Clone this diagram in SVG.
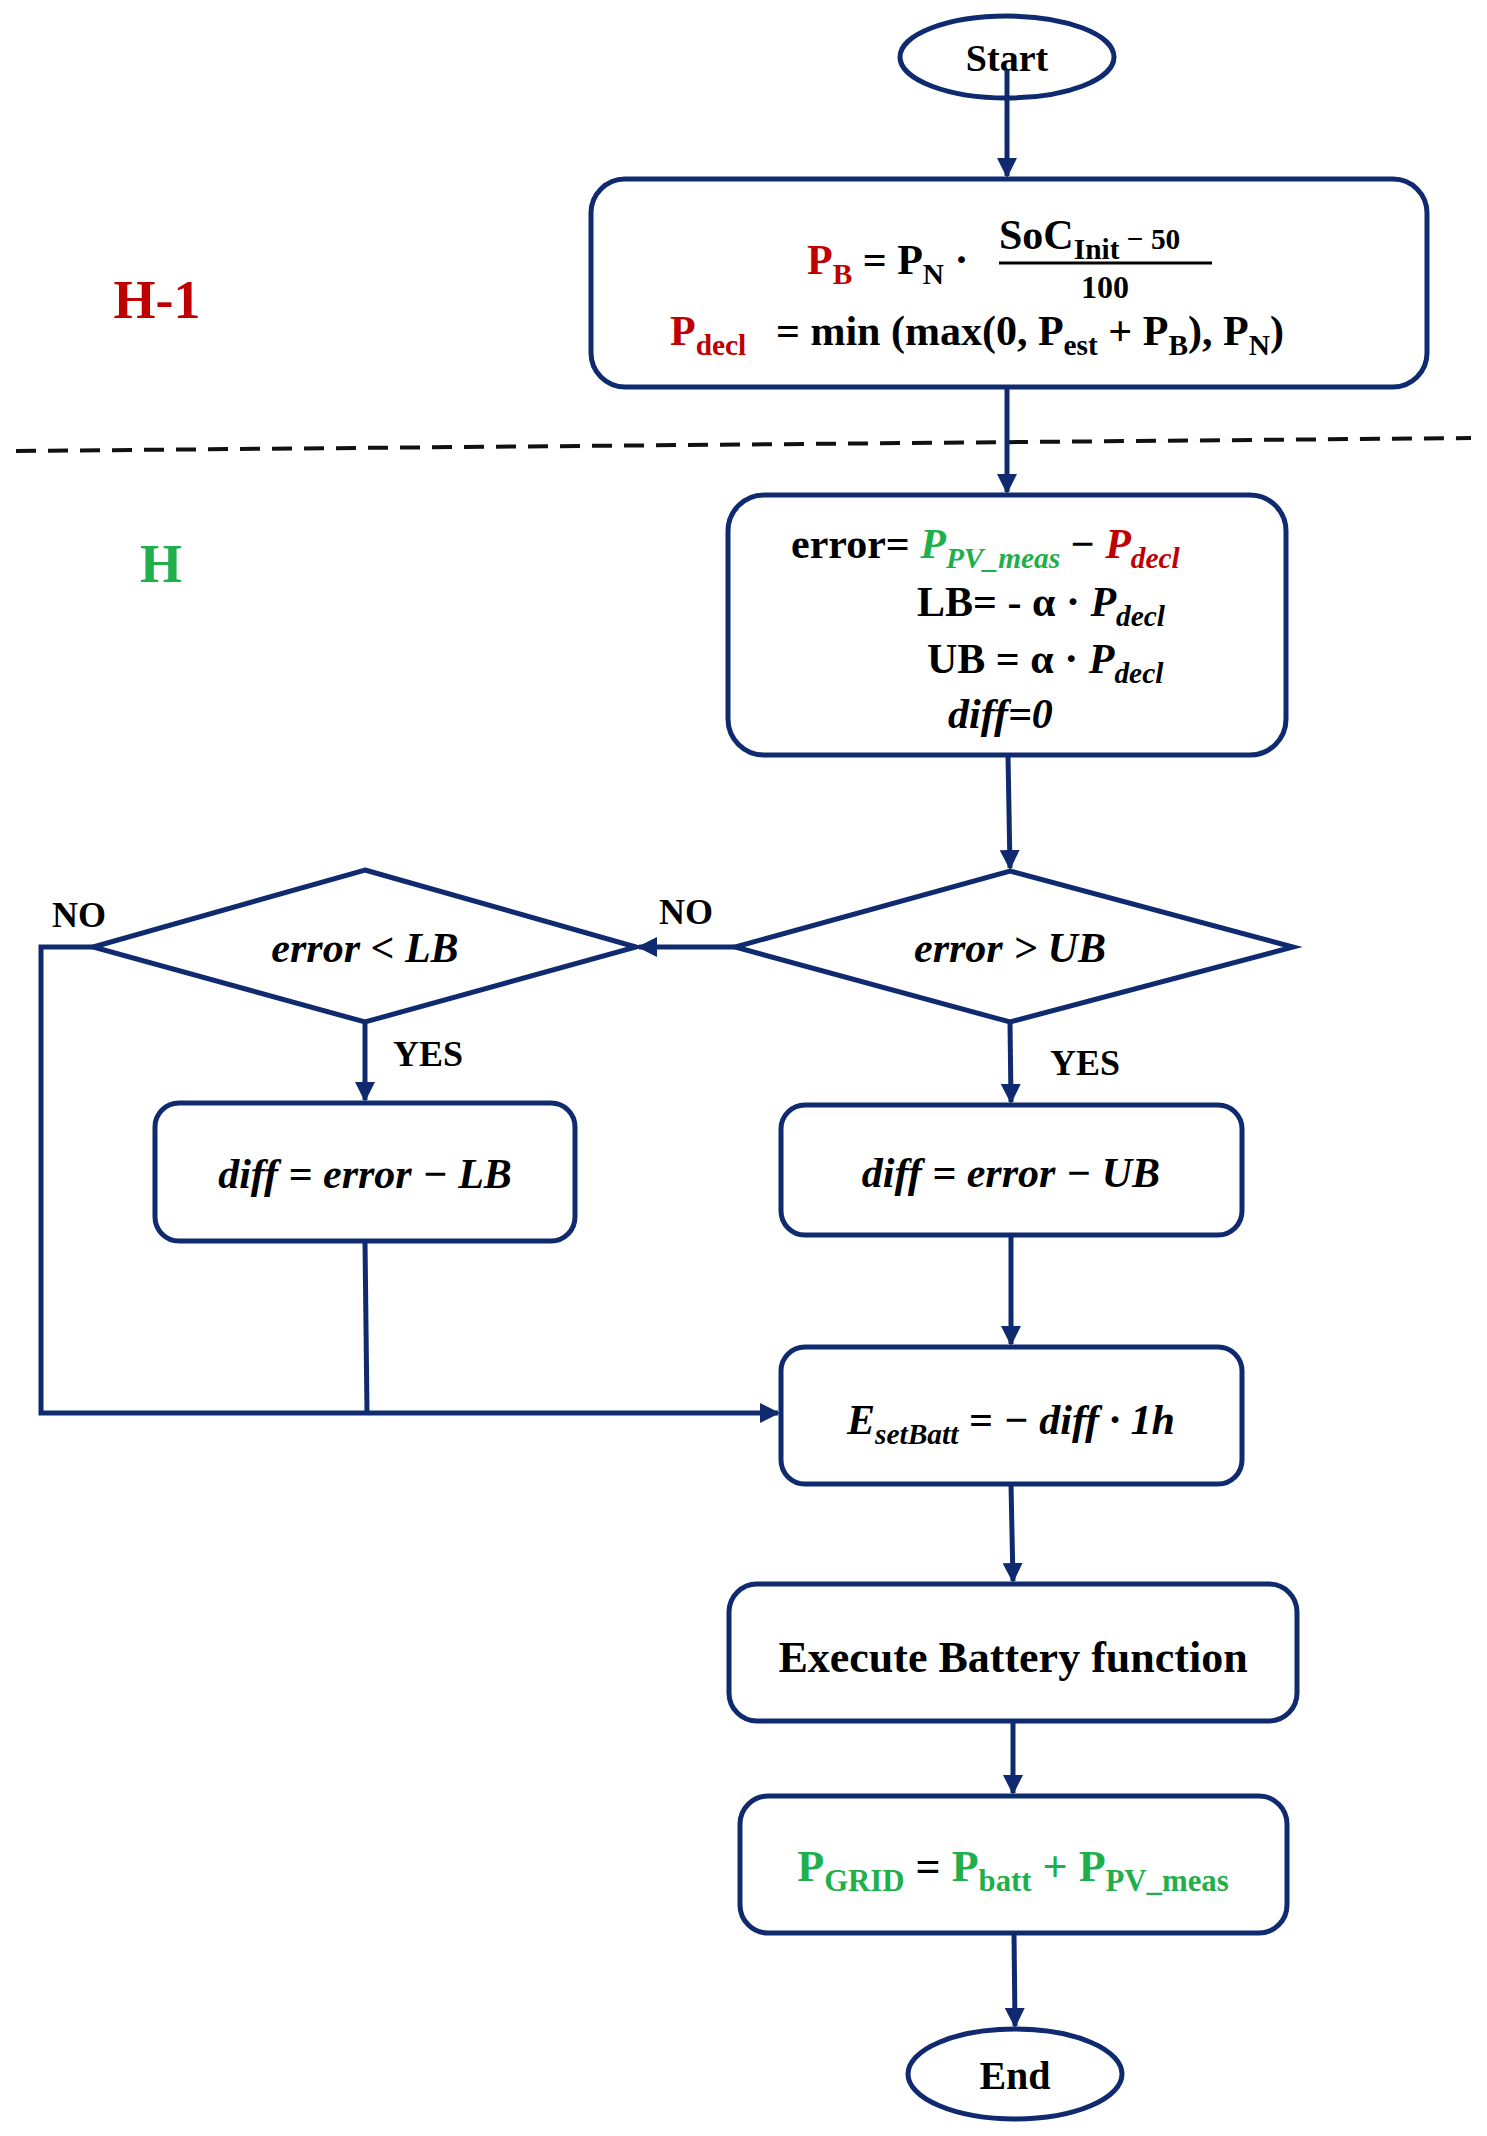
<svg xmlns="http://www.w3.org/2000/svg" width="1487" height="2136" viewBox="0 0 1487 2136">
<defs>
<style>
.n{fill:#fff;stroke:#0f2a6e;stroke-width:5}
.c{fill:none;stroke:#0f2a6e;stroke-width:5}
.t{font-family:"Liberation Serif",serif;font-weight:bold;fill:#000}
.i{font-style:italic}
.r{fill:#c00000}
.g{fill:#1fb04c}
.s{font-size:70%}
</style>
<marker id="a" viewBox="0 0 10 10" refX="9" refY="5" markerWidth="4" markerHeight="4" orient="auto"><path d="M0,0L10,5L0,10z" fill="#0f2a6e"/></marker>
</defs>
<rect width="1487" height="2136" fill="#fff"/>
<text class="t r" x="157" y="318" font-size="54" text-anchor="middle">H-1</text>
<text class="t g" x="161" y="582" font-size="54" text-anchor="middle">H</text>
<line x1="16" y1="451" x2="1471" y2="438" stroke="#111" stroke-width="4" stroke-dasharray="20,12"/>
<g id="start"><ellipse class="n" cx="1007" cy="57" rx="107" ry="41"/><text class="t" x="1007" y="71" font-size="38" text-anchor="middle">Start</text></g>
<g id="init"><rect class="n" x="591" y="179" width="836" height="208" rx="34"/>
<text class="t" font-size="42" x="807" y="274"><tspan class="r">P<tspan class="s" dy="10">B</tspan></tspan><tspan dy="-10"> = P</tspan><tspan class="s" dy="10">N</tspan><tspan dy="-10"> · </tspan></text>
<text class="t" font-size="42" x="999" y="249">SoC<tspan class="s" dy="10">Init</tspan><tspan class="s" dy="-10"> − 50</tspan></text>
<line x1="999" y1="263" x2="1212" y2="263" stroke="#000" stroke-width="3"/>
<text class="t" font-size="32" x="1105" y="298" text-anchor="middle">100</text>
<text class="t" font-size="42" x="670" y="345"><tspan class="r">P<tspan class="s" dy="10">decl</tspan></tspan><tspan dy="-10" x="776">= min (max(0, P</tspan><tspan class="s" dy="10">est</tspan><tspan dy="-10"> + P</tspan><tspan class="s" dy="10">B</tspan><tspan dy="-10">), P</tspan><tspan class="s" dy="10">N</tspan><tspan dy="-10">)</tspan></text>
</g>
<g id="bounds"><rect class="n" x="728" y="495" width="558" height="260" rx="36"/>
<text class="t" font-size="42" x="791" y="558">error= <tspan class="i g">P<tspan class="s" dy="10">PV_meas</tspan></tspan><tspan dy="-10"> − </tspan><tspan class="i r">P<tspan class="s" dy="10">decl</tspan></tspan></text>
<text class="t" font-size="42" x="917" y="616">LB= - α · <tspan class="i">P<tspan class="s" dy="10">decl</tspan></tspan></text>
<text class="t" font-size="42" x="927" y="673">UB = α · <tspan class="i">P<tspan class="s" dy="10">decl</tspan></tspan></text>
<text class="t i" font-size="42" x="948" y="728">diff=0</text>
</g>
<g id="dUB"><polygon class="n" points="1010,871 1293,947 1010,1022 735,947"/><text class="t i" font-size="42" x="1010" y="962" text-anchor="middle">error &gt; UB</text></g>
<g id="dLB"><polygon class="n" points="365,870 636,947 365,1022 93,947"/><text class="t i" font-size="42" x="365" y="962" text-anchor="middle">error &lt; LB</text></g>
<g id="diffLB"><rect class="n" x="155" y="1103" width="420" height="138" rx="24"/><text class="t i" font-size="42" x="365" y="1188" text-anchor="middle">diff = error − LB</text></g>
<g id="diffUB"><rect class="n" x="781" y="1105" width="461" height="130" rx="24"/><text class="t i" font-size="42" x="1011" y="1187" text-anchor="middle">diff = error − UB</text></g>
<g id="eset"><rect class="n" x="781" y="1347" width="461" height="137" rx="24"/><text class="t i" font-size="42" x="1011" y="1434" text-anchor="middle">E<tspan class="s" dy="10">setBatt</tspan><tspan dy="-10"> = − diff · 1h</tspan></text></g>
<g id="exec"><rect class="n" x="729" y="1584" width="568" height="137" rx="28"/><text class="t" font-size="44" x="1013" y="1672" text-anchor="middle">Execute Battery function</text></g>
<g id="grid"><rect class="n" x="740" y="1796" width="547" height="137" rx="28"/><text class="t g" font-size="44" x="1013" y="1881" text-anchor="middle">P<tspan class="s" dy="10">GRID</tspan><tspan dy="-10" fill="#000"> = </tspan>P<tspan class="s" dy="10">batt</tspan><tspan dy="-10"> + P</tspan><tspan class="s" dy="10">PV_meas</tspan></text></g>
<g id="end"><ellipse class="n" cx="1015" cy="2074" rx="107" ry="45"/><text class="t" font-size="40" x="1015" y="2089" text-anchor="middle">End</text></g>
<g id="connectors">
<path class="c" d="M1007,70V176" marker-end="url(#a)"/>
<path class="c" d="M1007,387V492" marker-end="url(#a)"/>
<path class="c" d="M1008,755L1010,868" marker-end="url(#a)"/>
<path class="c" d="M735,947H639" marker-end="url(#a)"/>
<path class="c" d="M365,1022V1100" marker-end="url(#a)"/>
<path class="c" d="M1010,1022L1011,1102" marker-end="url(#a)"/>
<path class="c" d="M1011,1235V1344" marker-end="url(#a)"/>
<path class="c" d="M93,947H41V1413H778" marker-end="url(#a)"/>
<path class="c" d="M365,1241L367,1413"/>
<path class="c" d="M1011,1484L1013,1581" marker-end="url(#a)"/>
<path class="c" d="M1013,1721V1793" marker-end="url(#a)"/>
<path class="c" d="M1014,1933L1015,2026" marker-end="url(#a)"/>
</g>
<text class="t" font-size="36" x="79" y="927" text-anchor="middle">NO</text>
<text class="t" font-size="36" x="686" y="924" text-anchor="middle">NO</text>
<text class="t" font-size="36" x="428" y="1066" text-anchor="middle">YES</text>
<text class="t" font-size="36" x="1085" y="1075" text-anchor="middle">YES</text>
</svg>
